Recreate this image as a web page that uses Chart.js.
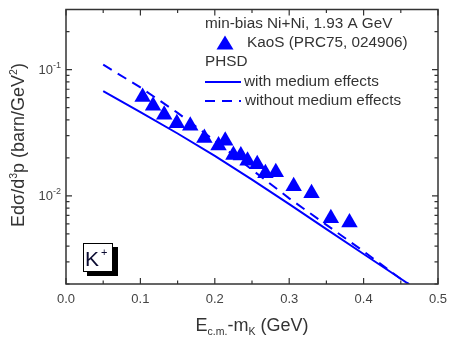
<!DOCTYPE html>
<html>
<head>
<meta charset="utf-8">
<script src="https://cdn.jsdelivr.net/npm/chart.js@4.4.0/dist/chart.umd.min.js"></script>
<style>
  body { margin: 0; background: #fff; }
  #wrap { width: 449px; height: 338px; }
</style>
</head>
<body>
<div id="wrap"><canvas id="myChart" width="449" height="338"></canvas></div>
<script>
// KaoS data points (E_cm - m_K in GeV, invariant cross section)
const kaosX = [0.103, 0.117, 0.132, 0.149, 0.167, 0.186, 0.205, 0.214, 0.225, 0.235,
               0.244, 0.257, 0.268, 0.282, 0.306, 0.330, 0.356, 0.381];
const kaosY = [0.0607, 0.0518, 0.0440, 0.0377, 0.0360, 0.0287, 0.0251, 0.0273, 0.0211, 0.0209,
               0.0190, 0.0178, 0.0151, 0.0154, 0.0119, 0.0105, 0.00664, 0.00614];

// PHSD curves
const curveX = [0.05, 0.10, 0.15, 0.20, 0.25, 0.30, 0.35, 0.40, 0.45, 0.461];
const withMedium = [0.0675, 0.0461, 0.0312, 0.0207, 0.01346, 0.00859, 0.00545, 0.00346, 0.0022, 0.00199];
const withoutMedium = [0.1096, 0.0724, 0.0455, 0.0274, 0.0161, 0.00955, 0.00589, 0.00363, 0.00219, 0.0020];

// axis ticks
const xTicks = [0.0, 0.1, 0.2, 0.3, 0.4, 0.5];
const xMinorTicks = [0.05, 0.15, 0.25, 0.35, 0.45];
const yTicks = [0.01, 0.1];
const yTickExp = ['-2', '-1'];
const yMinorTicks = [0.002, 0.003, 0.004, 0.005, 0.006, 0.007, 0.008, 0.009,
                     0.02, 0.03, 0.04, 0.05, 0.06, 0.07, 0.08, 0.09, 0.2, 0.3];

const blue = '#0000ff';
const textCol = '#333333';
const fontName = '"Liberation Sans", Arial, sans-serif';

function pts(xs, ys) {
    return xs.map(function(x, i) { return { x: x, y: ys[i] }; });
}

const data = {
    datasets: [
        {
            label: 'KaoS (PRC75, 024906)',
            data: pts(kaosX, kaosY),
            showLine: false,
            pointStyle: 'triangle',
            pointRadius: 9.5,
            backgroundColor: blue,
            borderColor: blue,
            borderWidth: 0
        },
        {
            label: 'with medium effects',
            data: pts(curveX, withMedium),
            showLine: true,
            pointRadius: 0,
            borderColor: blue,
            borderWidth: 2,
            tension: 0
        },
        {
            label: 'without medium effects',
            data: pts(curveX, withoutMedium),
            showLine: true,
            pointRadius: 0,
            borderColor: blue,
            borderWidth: 2,
            borderDash: [10, 7],
            tension: 0
        }
    ]
};

// frame, inward ticks, tick labels, titles, legend and K+ box
const decor = {
    id: 'decor',
    afterDraw: function(chart) {
        const ctx = chart.ctx;
        const a = chart.chartArea;
        const xs = chart.scales.x;
        const ys = chart.scales.y;
        ctx.save();

        // frame
        ctx.strokeStyle = textCol;
        ctx.lineWidth = 1.5;
        ctx.strokeRect(a.left, a.top, a.right - a.left, a.bottom - a.top);

        // ticks
        ctx.lineWidth = 1.2;
        ctx.beginPath();
        function xt(v, len) {
            const p = xs.getPixelForValue(v);
            ctx.moveTo(p, a.bottom); ctx.lineTo(p, a.bottom - len);
            ctx.moveTo(p, a.top); ctx.lineTo(p, a.top + len);
        }
        function yt(v, len) {
            const p = ys.getPixelForValue(v);
            ctx.moveTo(a.left, p); ctx.lineTo(a.left + len, p);
            ctx.moveTo(a.right, p); ctx.lineTo(a.right - len, p);
        }
        xTicks.forEach(function(v) { xt(v, 6); });
        xMinorTicks.forEach(function(v) { xt(v, 3.5); });
        yTicks.forEach(function(v) { yt(v, 6); });
        yMinorTicks.forEach(function(v) { yt(v, 3.5); });
        ctx.stroke();

        // tick labels
        ctx.fillStyle = '#444';
        ctx.font = '13px ' + fontName;
        ctx.textAlign = 'center';
        ctx.textBaseline = 'middle';
        xTicks.forEach(function(v) {
            ctx.fillText(v.toFixed(1), xs.getPixelForValue(v), 299);
        });
        yTicks.forEach(function(v, i) {
            const p = ys.getPixelForValue(v);
            ctx.font = '9px ' + fontName;
            ctx.textAlign = 'left';
            const ew = ctx.measureText(yTickExp[i]).width;
            ctx.fillText(yTickExp[i], a.left - 5 - ew, p - 4);
            ctx.font = '13px ' + fontName;
            ctx.textAlign = 'right';
            ctx.fillText('10', a.left - 5 - ew, p + 1);
        });

        // axis titles
        ctx.fillStyle = textCol;
        ctx.textAlign = 'left';
        ctx.textBaseline = 'alphabetic';
        const parts = [['E', 18, 0], ['c.m.', 10.5, 4], ['-m', 18, 0], ['K', 10.5, 4], [' (GeV)', 18, 0]];
        let tw = 0;
        parts.forEach(function(p) { ctx.font = p[1] + 'px ' + fontName; tw += ctx.measureText(p[0]).width; });
        let x0 = 252 - tw / 2;
        parts.forEach(function(p) {
            ctx.font = p[1] + 'px ' + fontName;
            ctx.fillText(p[0], x0, 331 + p[2]);
            x0 += ctx.measureText(p[0]).width;
        });

        ctx.save();
        ctx.translate(24, 145);
        ctx.rotate(-Math.PI / 2);
        const yparts = [['Ed\u03c3/d', 18, 0], ['3', 10.5, -7], ['p (barn/GeV', 18, 0], ['2', 10.5, -7], [')', 18, 0]];
        tw = 0;
        yparts.forEach(function(p) { ctx.font = p[1] + 'px ' + fontName; tw += ctx.measureText(p[0]).width; });
        let yx = -tw / 2;
        yparts.forEach(function(p) {
            ctx.font = p[1] + 'px ' + fontName;
            ctx.fillText(p[0], yx, p[2]);
            yx += ctx.measureText(p[0]).width;
        });
        ctx.restore();

        // legend
        ctx.fillStyle = textCol;
        ctx.font = '15.3px ' + fontName;
        ctx.textBaseline = 'middle';
        ctx.textAlign = 'left';
        ctx.fillText('min-bias Ni+Ni, 1.93 A GeV', 205, 24);
        ctx.fillText(data.datasets[0].label, 247, 43);
        ctx.fillText('PHSD', 205, 62);
        ctx.fillText(data.datasets[1].label, 244, 82);
        ctx.fillText(data.datasets[2].label, 245, 101);
        // legend marker
        ctx.fillStyle = blue;
        ctx.beginPath();
        ctx.moveTo(225, 35.5);
        ctx.lineTo(233.5, 49.5);
        ctx.lineTo(216.5, 49.5);
        ctx.closePath();
        ctx.fill();
        ctx.strokeStyle = blue;
        ctx.lineWidth = 2;
        ctx.beginPath();
        ctx.moveTo(205, 82); ctx.lineTo(241, 82);
        ctx.stroke();
        ctx.setLineDash([10, 7]);
        ctx.beginPath();
        ctx.moveTo(205, 101); ctx.lineTo(241, 101);
        ctx.stroke();
        ctx.setLineDash([]);

        // K+ box
        ctx.fillStyle = '#000';
        ctx.fillRect(87, 247, 31, 29);
        ctx.fillStyle = '#fff';
        ctx.fillRect(83, 243, 30, 29);
        ctx.strokeStyle = '#000';
        ctx.lineWidth = 1;
        ctx.strokeRect(83.5, 243.5, 29, 28);
        ctx.fillStyle = '#0a0a30';
        ctx.font = '21px ' + fontName;
        ctx.textBaseline = 'alphabetic';
        ctx.fillText('K', 85, 266);
        ctx.font = '11px ' + fontName;
        ctx.fillText('+', 101, 256);

        ctx.restore();
    }
};

var ctx = document.getElementById('myChart').getContext('2d');
var myChart = new Chart(ctx, {
    type: 'scatter',
    data: data,
    plugins: [decor],
    options: {
        responsive: false,
        animation: false,
        layout: { padding: { left: 66, right: 11, top: 7, bottom: 54 } },
        plugins: {
            legend: { display: false },
            tooltip: { enabled: false }
        },
        scales: {
            x: {
                type: 'linear',
                min: 0,
                max: 0.5,
                display: false
            },
            y: {
                type: 'logarithmic',
                min: 0.002,
                max: 0.3,
                display: false
            }
        }
    }
});
</script>
</body>
</html>
